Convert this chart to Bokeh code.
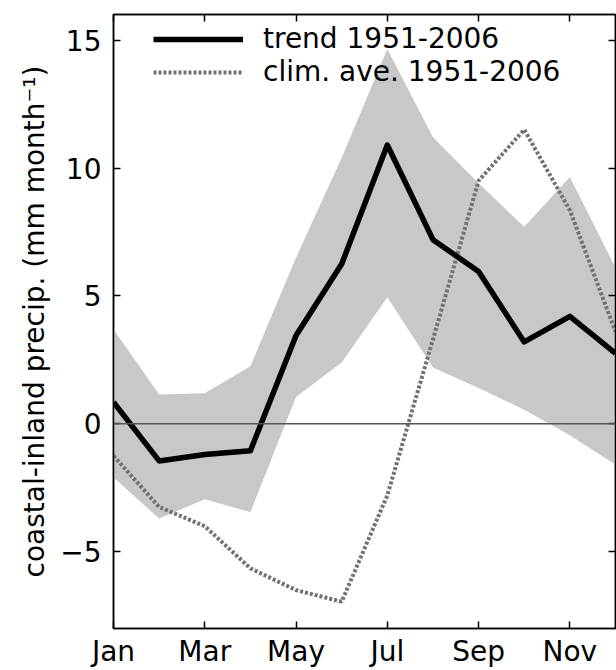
from bokeh.plotting import figure
from bokeh.models import (Range1d, FixedTicker, LinearAxis, Legend, LegendItem,
                          Span)
from bokeh.embed import file_html
from bokeh.resources import INLINE

# Monthly coastal-minus-inland precipitation (mm month^-1)
months = ["Jan", "Feb", "Mar", "Apr", "May", "Jun",
          "Jul", "Aug", "Sep", "Oct", "Nov", "Dec"]
month_num = list(range(1, 13))

trend = [0.85, -1.45, -1.2, -1.05, 3.45, 6.25, 10.9, 7.2, 5.95, 3.2, 4.2, 2.75]
clim_ave = [-1.25, -3.25, -4.0, -5.65, -6.5, -6.95, -2.8, 3.3, 9.5, 11.5, 8.35, 3.6]
band_upper = [3.7, 1.15, 1.2, 2.25, 6.5, 10.4, 14.65, 11.2, 9.4, 7.7, 9.65, 6.1]
band_lower = [-2.1, -3.7, -2.95, -3.45, 1.05, 2.4, 4.95, 2.2, 1.4, 0.55, -0.45, -1.6]

tick_months = ["Jan", "Mar", "May", "Jul", "Sep", "Nov"]
y_ticks = [-5, 0, 5, 10, 15]

FONT = "DejaVu Sans"
FS = "28px"

p = figure(width=616, height=670, output_backend="svg", toolbar_location=None,
           x_range=Range1d(1, 12), y_range=Range1d(-8, 16),
           min_border_left=113, min_border_right=1,
           min_border_top=14, min_border_bottom=41)
p.grid.visible = False
p.outline_line_color = "black"
p.outline_line_width = 1.5
p.background_fill_color = "white"
p.border_fill_color = "white"

x_tick_pos = [month_num[months.index(m)] for m in tick_months]
x_labels = {month_num[months.index(m)]: m for m in tick_months}

# shaded uncertainty band
p.varea(x=month_num, y1=band_lower, y2=band_upper, fill_color="#c8c8c8",
        fill_alpha=1.0)

# zero reference
p.add_layout(Span(location=0, dimension="width", line_color="#555555",
                  line_width=1.5))

r_clim = p.line(month_num, clim_ave, line_color="#727272", line_width=4,
                line_dash="3 2")
r_trend = p.line(month_num, trend, line_color="black", line_width=5.5,
                 line_join="round")

def style_axis(ax):
    ax.axis_line_color = "black"
    ax.axis_line_width = 1.5
    ax.major_tick_in = 7
    ax.major_tick_out = 0
    ax.major_tick_line_width = 1.5
    ax.minor_tick_line_color = None
    ax.major_label_text_font = FONT
    ax.major_label_text_color = "black"
    ax.major_label_text_font_size = FS

xa = p.xaxis[0]
xa.ticker = FixedTicker(ticks=x_tick_pos)
xa.major_label_overrides = x_labels
style_axis(xa)
xa.major_label_standoff = 6

ya = p.yaxis[0]
ya.ticker = FixedTicker(ticks=y_ticks)
style_axis(ya)
ya.major_label_standoff = 12
ya.axis_label = "coastal-inland precip. (mm month\u207b\u00b9)"
ya.axis_label_text_font = FONT
ya.axis_label_text_font_size = FS
ya.axis_label_text_font_style = "normal"
ya.axis_label_text_color = "black"
ya.axis_label_standoff = 6

# tick marks only on the top and right edges of the frame
top = LinearAxis(ticker=FixedTicker(ticks=x_tick_pos))
style_axis(top)
top.major_label_text_font_size = "1px"
top.major_label_standoff = 0
top.major_label_overrides = {t: "" for t in x_tick_pos}
p.add_layout(top, "above")

right = LinearAxis(ticker=FixedTicker(ticks=y_ticks))
style_axis(right)
right.major_label_text_font_size = "1px"
right.major_label_standoff = 0
right.major_label_overrides = {t: "" for t in y_ticks}
p.add_layout(right, "right")

legend = Legend(items=[LegendItem(label="trend 1951-2006", renderers=[r_trend]),
                       LegendItem(label="clim. ave. 1951-2006", renderers=[r_clim])],
                location=(40, 540), margin=0, padding=0, spacing=0,
                glyph_width=90, glyph_height=30, label_height=30,
                label_standoff=20, border_line_color=None,
                background_fill_alpha=0,
                label_text_font=FONT, label_text_font_size=FS,
                label_text_color="black")
p.add_layout(legend)

open("out.html", "w").write(file_html(p, INLINE))
